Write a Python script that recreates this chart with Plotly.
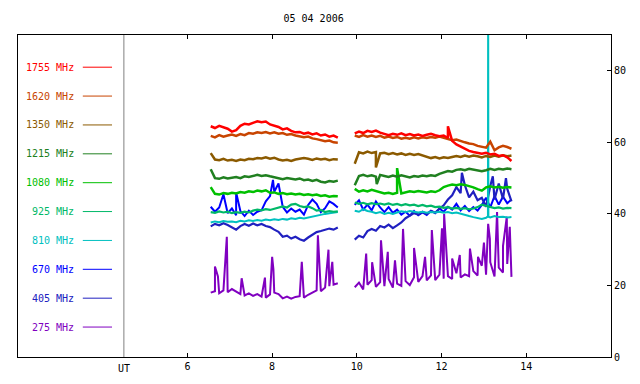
import plotly.graph_objects as go

# ---- time grids (UT hours) ----
T1 = [round(6.55 + 0.1 * i, 2) for i in range(31)]   # 6.55 .. 9.55
T2 = [round(9.95 + 0.1 * j, 2) for j in range(38)]   # 9.95 .. 13.65
GAP = 9.75

freqs = ["1755 MHz", "1620 MHz", "1350 MHz", "1215 MHz", "1080 MHz",
         "925 MHz", "810 MHz", "670 MHz", "405 MHz", "275 MHz"]

# ---- values ----
v1755_a = [64.5, 64.0, 64.6, 64.2, 63.8, 63.0, 63.4, 64.6, 65.2, 65.0, 65.5, 65.9, 65.6, 65.8, 65.0, 64.6,
           64.3, 63.6, 63.9, 63.2, 62.8, 62.9, 62.4, 62.7, 62.2, 62.5, 61.9, 62.2, 61.6, 61.9, 61.3]
v1755_b = [62.5, 63.0, 62.6, 63.2, 62.9, 63.3, 62.7, 62.4, 62.0, 62.4, 62.1, 62.5, 62.0, 62.3, 61.9, 62.2,
           61.8, 62.1, 62.4, 62.0, 61.7, 61.9, 61.2, 60.4, 59.4, 58.8, 58.2, 57.6, 57.3, 57.0, 56.8, 57.1,
           56.6, 56.8, 56.2, 56.4, 55.8, 54.8]
s1755 = [(12.15, 64.5)]

v1620_a = [61.8, 61.4, 62.0, 61.6, 61.9, 62.2, 61.8, 62.3, 62.0, 62.6, 62.4, 62.8, 62.6, 62.9, 62.5, 62.8,
           62.4, 62.6, 62.1, 62.3, 61.9, 61.7, 61.4, 61.6, 61.1, 60.9, 60.6, 60.3, 60.5, 60.0, 59.9]
v1620_b = [61.9, 61.5, 62.0, 61.6, 61.9, 61.5, 61.8, 61.3, 61.6, 61.2, 61.5, 61.0, 61.3, 61.0, 61.4, 61.1,
           61.4, 61.2, 61.5, 61.3, 61.6, 61.2, 61.0, 60.6, 60.8, 60.3, 60.0, 59.7, 59.5, 59.0, 58.8, 58.5,
           60.2, 57.8, 58.6, 59.0, 58.7, 58.2]
s1620 = []

v1350_a = [57.0, 55.2, 55.0, 55.4, 54.9, 55.1, 54.8, 55.2, 55.0, 55.4, 55.3, 55.6, 55.5, 55.8, 55.4, 55.7,
           55.2, 54.9, 55.1, 54.8, 55.2, 55.3, 55.6, 55.4, 55.1, 55.5, 55.2, 55.4, 55.0, 55.3, 55.2]
v1350_b = [54.0, 57.2, 56.9, 57.4, 57.0, 57.3, 56.9, 57.1, 56.7, 57.0, 56.6, 56.9, 56.5, 56.8, 56.5, 56.7,
           56.3, 56.0, 55.6, 55.9, 55.5, 55.8, 55.6, 55.9, 56.2, 55.9, 56.3, 56.0, 56.3, 56.1, 55.8, 56.2,
           55.9, 56.3, 56.0, 56.4, 56.1, 56.3]
s1350 = [(10.45, 53.0)]

v1215_a = [52.5, 50.0, 49.8, 50.2, 49.9, 50.1, 50.3, 50.0, 50.5, 50.3, 50.7, 50.9, 50.6, 50.8, 50.5, 50.2,
           50.0, 49.7, 50.0, 49.8, 49.6, 49.9, 49.4, 49.6, 49.2, 49.5, 49.0, 48.8, 49.2, 49.0, 49.3]
v1215_b = [48.0, 50.6, 50.9, 50.5, 50.8, 50.4, 50.9, 50.6, 50.3, 50.7, 50.4, 50.8, 50.5, 50.2, 50.6, 50.4,
           50.7, 50.5, 50.8, 50.6, 51.2, 51.6, 52.0, 51.8, 52.3, 52.5, 52.2, 52.6, 52.3, 52.1, 51.9, 52.2,
           52.6, 52.3, 52.6, 52.4, 52.7, 52.5]
s1215 = [(10.47, 48.3)]

v1080_a = [47.5, 45.6, 45.4, 45.8, 45.6, 45.9, 45.7, 46.1, 45.9, 46.3, 46.1, 46.5, 46.3, 46.6, 45.9, 46.0,
           45.6, 45.8, 45.5, 45.7, 45.4, 45.6, 45.3, 45.5, 45.2, 45.4, 45.0, 45.2, 44.8, 45.0, 44.9]
v1080_b = [47.0, 46.2, 46.6, 46.3, 46.7, 46.4, 46.1, 45.7, 45.9, 45.6, 45.9, 45.7, 46.0, 46.3, 46.1, 46.4,
           46.2, 46.0, 46.3, 46.1, 46.6, 47.5, 47.9, 48.2, 48.0, 48.3, 48.1, 47.8, 47.4, 46.9, 46.5, 47.4,
           47.7, 47.4, 47.6, 47.3, 47.5, 47.4]
s1080 = [(10.95, 52.8)]

v925_a = [40.5, 40.3, 40.7, 40.4, 40.6, 40.2, 40.5, 40.3, 40.6, 40.4, 40.9, 41.2, 41.0, 41.3, 41.1, 41.4,
          41.7, 42.1, 41.8, 42.6, 42.8, 42.2, 41.9, 42.1, 41.6, 40.9, 41.1, 40.5, 40.8, 40.6, 40.7]
v925_b = [43.2, 42.8, 43.1, 42.7, 43.0, 42.7, 42.9, 42.6, 42.9, 42.5, 42.8, 42.4, 42.7, 42.4, 42.6, 42.2,
          42.5, 42.1, 42.3, 41.9, 42.0, 41.7, 41.9, 41.5, 41.7, 41.4, 41.6, 41.3, 41.5, 41.9, 42.6, 42.2,
          42.0, 41.6, 41.8, 41.5, 41.7, 41.6]
s925 = []

v810_a = [37.6, 37.9, 37.7, 38.0, 37.8, 37.9, 37.7, 38.1, 37.9, 38.2, 38.0, 38.3, 38.1, 38.4, 38.2, 38.5,
          38.3, 38.6, 38.4, 38.8, 38.6, 38.9, 38.7, 39.0, 39.3, 39.6, 39.8, 40.0, 40.2, 40.4, 40.5]
v810_b = [40.9, 40.6, 41.3, 40.8, 40.6, 40.2, 40.5, 40.0, 40.3, 40.0, 40.4, 40.7, 40.5, 40.8, 40.6, 40.4,
          40.6, 40.3, 40.5, 40.4, 40.6, 40.3, 40.5, 40.2, 40.4, 40.0, 39.8, 39.4, 39.1, 38.8, 38.6, 38.9,
          39.0, 39.4, 39.1, 39.2, 39.0, 39.1]
s810 = [(13.095, 39.3), (13.10, 100.0), (13.105, 39.2)]

v670_a = [42.0, 40.6, 41.8, 45.5, 40.2, 41.5, 39.6, 40.8, 39.4, 40.9, 39.7, 40.6, 41.0, 43.5, 45.0, 46.2,
          48.5, 42.0, 40.4, 41.5, 40.6, 41.2, 39.8, 42.5, 44.0, 42.8, 40.5, 41.6, 43.5, 42.8, 41.8]
v670_b = [42.5, 43.8, 41.2, 42.6, 41.0, 43.5, 41.8, 40.5, 41.9, 40.3, 41.2, 39.8, 40.6, 39.5, 40.8, 39.6,
          40.4, 39.7, 40.9, 40.2, 41.5, 40.6, 42.0, 41.2, 42.8, 41.0, 42.2, 40.8, 41.9, 40.9, 42.5, 44.5,
          41.8, 45.0, 42.6, 44.8, 43.0, 44.0]
s670 = [(7.15, 46.0), (8.02, 49.5)]

v405_a = [36.5, 37.2, 36.8, 37.4, 36.9, 36.2, 35.6, 36.6, 37.2, 36.7, 37.3, 36.8, 37.2, 36.6, 36.3, 35.6,
          35.0, 33.6, 33.9, 33.1, 33.6, 32.9, 32.5, 33.4, 34.2, 34.9, 35.2, 35.5, 35.9, 35.6, 36.2]
v405_b = [32.8, 33.9, 33.4, 35.2, 35.8, 35.3, 36.6, 36.2, 37.0, 36.0, 36.8, 37.6, 38.8, 39.6, 40.2, 39.8,
          40.6, 40.0, 40.8, 40.3, 41.5, 42.4, 44.0, 45.2, 47.5, 45.8, 48.0, 44.6, 46.2, 43.8, 44.5, 42.0,
          47.8, 44.0, 48.5, 44.2, 47.0, 43.5]
s405 = [(12.48, 51.5), (13.21, 50.5), (13.52, 50.0)]

v275_a = [18.0, 18.4, 17.8, 18.6, 18.1, 19.0, 18.3, 17.6, 17.2, 17.8, 17.1, 17.6, 16.9, 16.6, 17.5, 18.0,
          17.6, 16.4, 16.9, 16.3, 16.8, 17.0, 16.6, 17.4, 18.0, 18.6, 18.4, 19.4, 19.8, 20.2, 20.6]
v275_b = [19.5, 20.8, 18.9, 20.2, 21.5, 19.6, 20.9, 19.8, 21.8, 19.4, 20.5, 19.9, 21.2, 20.1, 22.3, 21.0,
          22.6, 21.4, 22.8, 21.5, 23.0, 21.9, 22.6, 21.8, 23.4, 22.2, 23.1, 22.6, 24.0, 22.8, 25.5, 23.0,
          26.5, 22.5, 25.0, 23.6, 26.0, 22.4]
s275 = [(6.65, 25.3), (6.72, 22.5), (6.93, 33.6), (7.28, 22.0), (7.83, 22.2), (8.00, 28.0), (8.03, 24.5),
        (8.70, 26.6), (9.08, 34.0), (9.33, 30.0), (9.42, 26.6),
        (10.22, 28.9), (10.36, 26.5), (10.57, 32.6), (10.73, 29.4), (10.90, 27.0), (11.09, 35.8),
        (11.35, 30.5), (11.61, 28.0), (11.77, 35.5), (12.01, 36.0), (12.06, 40.0), (12.25, 27.5),
        (12.43, 28.5), (12.67, 30.3), (12.86, 28.0), (13.00, 32.0), (13.10, 37.2), (13.14, 33.0),
        (13.31, 40.5), (13.45, 31.0), (13.54, 39.2), (13.61, 36.4)]

colors = {"1755 MHz": "#ff0000", "1620 MHz": "#c84400", "1350 MHz": "#8b5a00", "1215 MHz": "#208020",
          "1080 MHz": "#00c000", "925 MHz": "#00b868", "810 MHz": "#00c0c0", "670 MHz": "#0000ff",
          "405 MHz": "#2020c0", "275 MHz": "#8000c0"}

series = {
    "1755 MHz": (v1755_a, v1755_b, s1755), "1620 MHz": (v1620_a, v1620_b, s1620),
    "1350 MHz": (v1350_a, v1350_b, s1350), "1215 MHz": (v1215_a, v1215_b, s1215),
    "1080 MHz": (v1080_a, v1080_b, s1080), "925 MHz": (v925_a, v925_b, s925),
    "810 MHz": (v810_a, v810_b, s810), "670 MHz": (v670_a, v670_b, s670),
    "405 MHz": (v405_a, v405_b, s405), "275 MHz": (v275_a, v275_b, s275),
}


def build(a, b, spikes):
    pts = list(zip(T1, a)) + list(zip(T2, b)) + list(spikes)
    pts.sort(key=lambda p: p[0])
    xs, ys = [], []
    for t, v in pts:
        if xs and xs[-1] is not None and xs[-1] < GAP < t:
            xs.append(None)
            ys.append(None)
        xs.append(t)
        ys.append(v)
    return xs, ys


fig = go.Figure()
order = ["275 MHz", "670 MHz", "405 MHz", "810 MHz", "925 MHz", "1080 MHz",
         "1215 MHz", "1350 MHz", "1620 MHz", "1755 MHz"]
widths = {"275 MHz": 2, "670 MHz": 2, "405 MHz": 2.2, "810 MHz": 2, "925 MHz": 2.2}
for name in order:
    a, b, s = series[name]
    xs, ys = build(a, b, s)
    fig.add_trace(go.Scatter(x=xs, y=ys, mode="lines", name=name,
                             line=dict(color=colors[name], width=widths.get(name, 2.5)),
                             connectgaps=False, showlegend=False, hoverinfo="skip"))

FONT = "DejaVu Sans Mono"
annotations = []
shapes = []
# legend (left panel)
for k, name in enumerate(freqs):
    yv = 81.0 - 8.07 * k
    annotations.append(dict(x=3.37, y=yv, xref="x", yref="y", text=name, showarrow=False,
                            xanchor="right", yanchor="middle",
                            font=dict(family=FONT, size=10, color=colors[name])))
    shapes.append(dict(type="line", xref="x", yref="y", x0=3.53, x1=4.22, y0=yv, y1=yv,
                       line=dict(color=colors[name], width=1)))
# UT separator line
shapes.append(dict(type="line", xref="x", yref="y", x0=4.5, x1=4.5, y0=0, y1=90,
                   line=dict(color="#808080", width=1), layer="below"))
annotations.append(dict(x=4.5, y=0, xref="x", yref="paper", text="UT", showarrow=False,
                        xanchor="center", yanchor="top", yshift=-4,
                        font=dict(family=FONT, size=10, color="black")))

fig.update_layout(
    width=640, height=384,
    margin=dict(l=18, r=29, t=35, b=25),
    paper_bgcolor="white", plot_bgcolor="white",
    title=dict(text="05 04 2006", x=0.49, xanchor="center", y=0.953, yanchor="middle",
               font=dict(family=FONT, size=10, color="black")),
    xaxis=dict(range=[2, 16], tickvals=[6, 8, 10, 12, 14], ticks="inside", ticklen=4,
               showline=True, linecolor="black", linewidth=1, mirror="ticks",
               showgrid=False, zeroline=False, tickcolor="black",
               tickfont=dict(family=FONT, size=10, color="black")),
    yaxis=dict(range=[0, 90], side="right", tickvals=[0, 20, 40, 60, 80], ticks="inside",
               ticklen=4, showline=True, linecolor="black", linewidth=1, mirror=True,
               showgrid=False, zeroline=False, tickcolor="black",
               tickfont=dict(family=FONT, size=10, color="black")),
    annotations=annotations, shapes=shapes,
)

fig.write_html("out.html", config={"displayModeBar": False},
               post_script="document.body.style.margin='0px';")
